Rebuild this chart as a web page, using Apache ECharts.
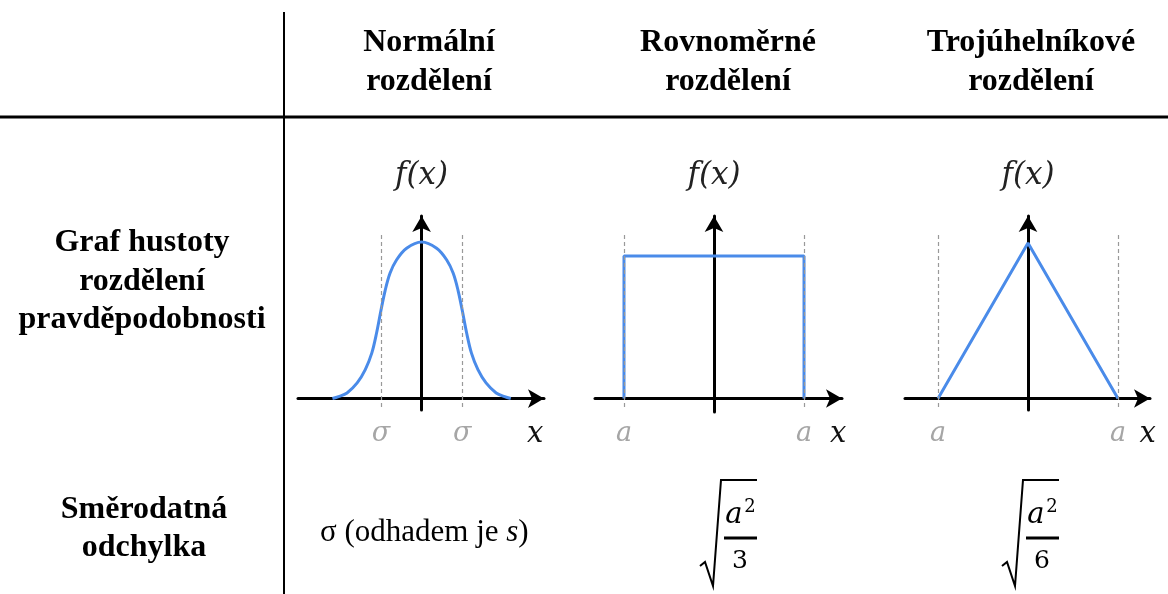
<!DOCTYPE html>
<html><head><meta charset="utf-8">
<script src="https://cdn.jsdelivr.net/npm/echarts@6/dist/echarts.min.js"></script>
<style>html,body{margin:0;padding:0;background:#fff}#c{width:1168px;height:594px}</style>
</head><body><div id="c"></div>
<script>
// ---- data ----
const columnTitles = [['Normální', 'rozdělení'], ['Rovnoměrné', 'rozdělení'], ['Trojúhelníkové', 'rozdělení']];
const rowTitleDensity = ['Graf hustoty', 'rozdělení', 'pravděpodobnosti'];
const rowTitleSd = ['Směrodatná', 'odchylka'];

// normal density (x in units of sigma, f relative to peak)
const normalX = [-2.2, -2.05, -1.84, -1.59, -1.39, -1.23, -1.11, -1.0, -0.9, -0.78, -0.62, -0.37, 0, 0.37, 0.62, 0.78, 0.9, 1.0, 1.11, 1.23, 1.39, 1.59, 1.84, 2.05, 2.2];
const normalY = [0, 0.012, 0.036, 0.10, 0.185, 0.29, 0.42, 0.567, 0.69, 0.80, 0.885, 0.96, 1, 0.96, 0.885, 0.80, 0.69, 0.567, 0.42, 0.29, 0.185, 0.10, 0.036, 0.012, 0];
// uniform density (x in units of a)
const uniformX = [-1, -1, 1, 1];
const uniformY = [0, 1, 1, 0];
// triangular density (x in units of a)
const triangleX = [-1, 0, 1];
const triangleY = [0, 1, 0];

// tick labels
const normalTicks = [-1, 1];
const normalTickLabels = ['σ', 'σ'];
const boundTicks = [-1, 1];
const boundTickLabels = ['a', 'a'];
const axisLetter = 'x';
const normalLetterAt = 2.8;
const uniformLetterAt = 1.38;
const triangleLetterAt = 1.33;

// dashed guide lines (x positions and vertical extent in data units)
const normalGuides = [-1, 1];
const normalGuideSpan = [-0.054, 1.045];
const uniformGuides = [-1, 1];
const uniformGuideSpan = [-0.06, 1.147];
const triangleGuides = [-1, 1];
const triangleGuideSpan = [-0.055, 1.051];

// standard deviation row
const sdNormal = ['σ (odhadem je ', 's', ')'];
const sdDenominators = ['3', '6'];

// ---- chart ----
const BLUE = '#4a8be9';
const GRAY = '#a6a6a6';
const SERIF = '"Liberation Serif", "Times New Roman", serif';
const MATH = '"DejaVu Serif", serif';

function zip(xs, ys) { return xs.map((x, i) => [x, ys[i]]); }

function xAxisFor(i, min, max, ticks, labels, letterAt, margin) {
  const vals = ticks.concat([letterAt]);
  return {
    type: 'value', gridIndex: i, min: min, max: max,
    splitLine: { show: false }, axisTick: { show: false },
    axisLine: { onZero: true, symbol: ['none', 'arrow'], symbolSize: [14, 16],
      lineStyle: { color: '#000', width: 3 } },
    axisLabel: {
      customValues: vals, margin: margin,
      formatter: function (v) {
        const k = ticks.indexOf(v);
        return k >= 0 ? '{g|' + labels[k] + '}' : '{x|' + axisLetter + '}';
      },
      rich: {
        g: { fontFamily: MATH, fontStyle: 'italic', fontSize: 27, color: GRAY },
        x: { fontFamily: MATH, fontStyle: 'italic', fontSize: 29, color: '#111' }
      }
    }
  };
}
function yAxisFor(i, min, max) {
  return {
    type: 'value', gridIndex: i, min: min, max: max, z: 3,
    splitLine: { show: false }, axisTick: { show: false }, axisLabel: { show: false },
    axisLine: { onZero: true, symbol: ['none', 'arrow'], symbolSize: [14, 16],
      lineStyle: { color: '#000', width: 3 } },
    name: 'f(x)', nameLocation: 'end', nameGap: 25,
    nameTextStyle: { fontFamily: MATH, fontStyle: 'italic', fontSize: 31, color: '#222' }
  };
}
function guides(xs, span) {
  return {
    silent: true, symbol: ['none', 'none'], animation: false,
    label: { show: false },
    lineStyle: { type: [4, 3], color: '#999', width: 1.2 },
    data: xs.map(g => [{ coord: [g, span[0]] }, { coord: [g, span[1]] }])
  };
}
function lineSeries(i, data, smooth, ml) {
  return {
    type: 'line', xAxisIndex: i, yAxisIndex: i, data: data, smooth: smooth,
    showSymbol: false, symbol: 'none', animation: false,
    lineStyle: { color: BLUE, width: 3 }, markLine: ml
  };
}

const graphics = [];
graphics.push({ type: 'line', shape: { x1: 284, y1: 12, x2: 284, y2: 594 }, style: { stroke: '#000', lineWidth: 2 } });
graphics.push({ type: 'line', shape: { x1: 0, y1: 117, x2: 1168, y2: 117 }, style: { stroke: '#000', lineWidth: 3 } });
const colCenters = [429, 728, 1031];
const BOLD = 'bold 32px ' + SERIF;
columnTitles.forEach((lines, c) => {
  lines.forEach((t, r) => graphics.push({ type: 'text', style: { text: t, x: colCenters[c], y: [42.5, 81.5][r],
    textAlign: 'center', textVerticalAlign: 'middle', font: BOLD, fill: '#000' } }));
});
rowTitleDensity.forEach((t, r) => graphics.push({ type: 'text', style: { text: t, x: 142, y: [242.5, 281.5, 319.5][r],
  textAlign: 'center', textVerticalAlign: 'middle', font: BOLD, fill: '#000' } }));
rowTitleSd.forEach((t, r) => graphics.push({ type: 'text', style: { text: t, x: 144, y: [509.5, 547.5][r],
  textAlign: 'center', textVerticalAlign: 'middle', font: BOLD, fill: '#000' } }));
graphics.push({ type: 'text', style: {
  text: '{n|' + sdNormal[0] + '}{i|' + sdNormal[1] + '}{n|' + sdNormal[2] + '}',
  x: 320, y: 532.5, textAlign: 'left', textVerticalAlign: 'middle',
  rich: { n: { fontFamily: SERIF, fontSize: 31, color: '#000' },
          i: { fontFamily: SERIF, fontStyle: 'italic', fontSize: 31, color: '#000' } } } });
[700, 1002].forEach((ox, k) => {
  graphics.push({ type: 'polyline', shape: { points: [[ox, 566], [ox + 5, 562], [ox + 13, 586], [ox + 21, 480], [ox + 57, 480]] },
    style: { stroke: '#000', lineWidth: 2, fill: null } });
  graphics.push({ type: 'text', style: { text: 'a', x: ox + 34, y: 515, textAlign: 'center', textVerticalAlign: 'middle',
    font: 'italic 29px ' + MATH, fill: '#000' } });
  graphics.push({ type: 'text', style: { text: '2', x: ox + 50, y: 507, textAlign: 'center', textVerticalAlign: 'middle',
    font: '18px ' + MATH, fill: '#000' } });
  graphics.push({ type: 'line', shape: { x1: ox + 24, y1: 538, x2: ox + 57, y2: 538 }, style: { stroke: '#000', lineWidth: 3 } });
  graphics.push({ type: 'text', style: { text: sdDenominators[k], x: ox + 40, y: 561, textAlign: 'center', textVerticalAlign: 'middle',
    font: '25px ' + MATH, fill: '#000' } });
});

const option = {
  animation: false,
  backgroundColor: '#fff',
  grid: [
    { left: 298, top: 216, width: 246, height: 194 },
    { left: 595, top: 216, width: 247, height: 196 },
    { left: 905, top: 216, width: 245, height: 194 }
  ],
  xAxis: [
    xAxisFor(0, -3.05, 3.02, normalTicks, normalTickLabels, normalLetterAt, 10),
    xAxisFor(1, -1.322, 1.422, boundTicks, boundTickLabels, uniformLetterAt, 8),
    xAxisFor(2, -1.367, 1.356, boundTicks, boundTickLabels, triangleLetterAt, 10)
  ],
  yAxis: [
    yAxisFor(0, -0.073, 1.166),
    yAxisFor(1, -0.095, 1.281),
    yAxisFor(2, -0.074, 1.174)
  ],
  series: [
    lineSeries(0, zip(normalX, normalY), 0.35, guides(normalGuides, normalGuideSpan)),
    lineSeries(1, zip(uniformX, uniformY), false, guides(uniformGuides, uniformGuideSpan)),
    lineSeries(2, zip(triangleX, triangleY), false, guides(triangleGuides, triangleGuideSpan))
  ],
  graphic: graphics
};
const chart = echarts.init(document.getElementById('c'), null, { renderer: 'canvas' });
chart.setOption(option);
</script>
</body></html>
